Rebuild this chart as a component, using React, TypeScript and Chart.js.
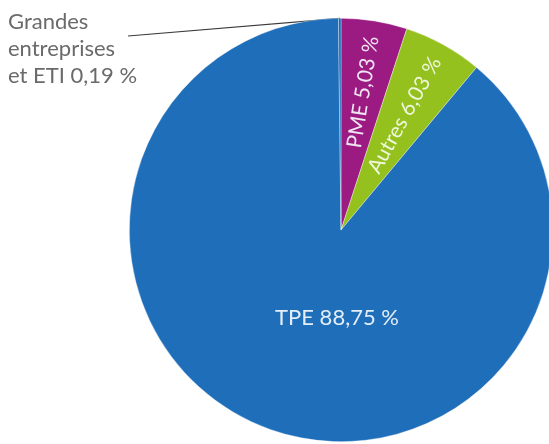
import React, { useEffect, useRef } from "react";
import { Chart, registerables } from "chart.js";

Chart.register(...registerables);

const categories = ["PME", "Autres", "TPE", "Grandes entreprises et ETI"];
const values = [5.03, 6.03, 88.75, 0.19];
const valueLabels = ["PME 5,03 %", "Autres 6,03 %", "TPE 88,75 %", "et ETI 0,19 %"];
const outsideLabelLines = ["Grandes", "entreprises", "et ETI 0,19 %"];
const colors = ["#9b1b83", "#95c11f", "#1f6eb9", "#1e68b2"];
const textColors = ["#f0e6f2", "#eef6dc", "#e4eef8", "#6a6a6a"];

const FONT = "Lato, 'Open Sans', sans-serif";

const labelPlugin = {
  id: "sliceLabels",
  beforeDatasetsDraw(chart: any) {
    const meta = chart.getDatasetMeta(0);
    const ctx = chart.ctx;
    const arc = meta.data[3];
    if (!arc) return;
    const { x, y, outerRadius, startAngle, endAngle } = arc.getProps(
      ["x", "y", "outerRadius", "startAngle", "endAngle"],
      true
    );
    const mid = (startAngle + endAngle) / 2;
    const ex = x + Math.cos(mid) * outerRadius;
    const ey = y + Math.sin(mid) * outerRadius;
    ctx.save();
    ctx.strokeStyle = "#3a3a3a";
    ctx.lineWidth = 1.1;
    ctx.beginPath();
    ctx.moveTo(128, 36);
    ctx.lineTo(ex, ey);
    ctx.stroke();
    ctx.restore();
  },
  afterDatasetsDraw(chart: any) {
    const meta = chart.getDatasetMeta(0);
    const ctx = chart.ctx;
    ctx.save();
    ctx.font = `400 21px ${FONT}`;
    ctx.textAlign = "center";
    ctx.textBaseline = "middle";
    const radialFrac = [0.66, 0.62];
    for (let i = 0; i < 2; i++) {
      const arc = meta.data[i];
      const { x, y, outerRadius, startAngle, endAngle } = arc.getProps(
        ["x", "y", "outerRadius", "startAngle", "endAngle"],
        true
      );
      const mid = (startAngle + endAngle) / 2;
      const r = outerRadius * radialFrac[i];
      ctx.save();
      ctx.translate(x + Math.cos(mid) * r, y + Math.sin(mid) * r);
      ctx.rotate(mid);
      ctx.fillStyle = textColors[i];
      ctx.fillText(valueLabels[i], 0, 0);
      ctx.restore();
    }
    // TPE label
    const tpe = meta.data[2];
    const p = tpe.getProps(["x", "y", "outerRadius"], true);
    ctx.font = `400 22px ${FONT}`;
    ctx.fillStyle = textColors[2];
    ctx.fillText(valueLabels[2], p.x - 4, p.y + p.outerRadius * 0.415);

    // outside label
    ctx.textAlign = "left";
    ctx.textBaseline = "alphabetic";
    ctx.fillStyle = textColors[3];
    outsideLabelLines.forEach((t, k) => {
      ctx.fillText(t, 8, 29 + k * 27);
    });
    ctx.restore();
  },
};

export default function App() {
  const ref = useRef<HTMLCanvasElement>(null);
  useEffect(() => {
    if (!ref.current) return;
    const chart = new Chart(ref.current, {
      type: "pie",
      data: {
        labels: categories,
        datasets: [
          {
            data: values,
            backgroundColor: colors,
            borderColor: "rgba(255,255,255,0.5)",
            borderWidth: 0.7,
          },
        ],
      },
      options: {
        responsive: false,
        animation: false,
        rotation: 0,
        layout: { padding: { left: 129, right: 7, top: 18, bottom: 2 } },
        plugins: {
          legend: { display: false },
          tooltip: { enabled: false },
        },
      },
      plugins: [labelPlugin],
    });
    return () => chart.destroy();
  }, []);
  return (
    <div
      style={{
        position: "fixed",
        left: 0,
        top: 0,
        width: 549,
        height: 444,
        overflow: "hidden",
        background: "#fff",
      }}
    >
      <canvas ref={ref} width={560} height={444} style={{ display: "block" }} />
    </div>
  );
}
